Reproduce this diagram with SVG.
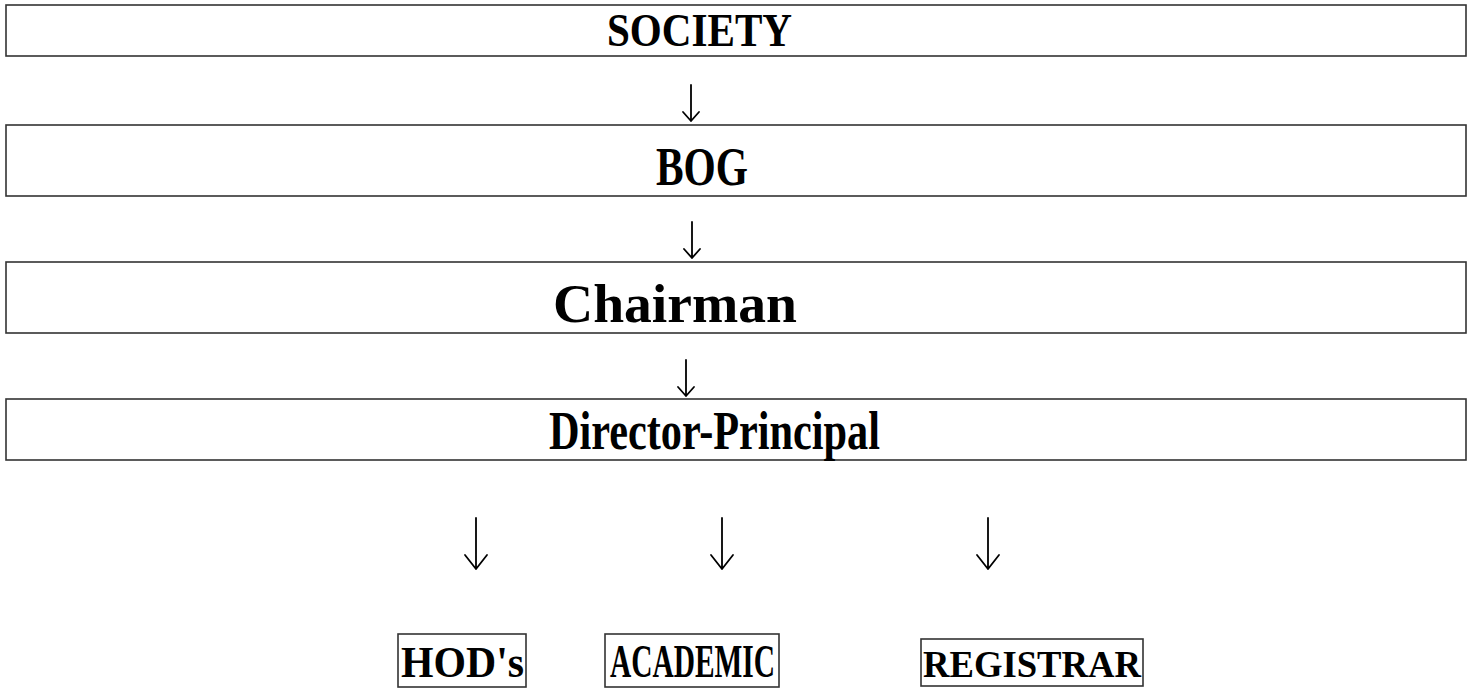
<svg xmlns="http://www.w3.org/2000/svg" width="1472" height="688" viewBox="0 0 1472 688">
<style>
.box{fill:#fff;stroke:#333;stroke-width:1.6}
.t{font-family:"Liberation Serif","Times New Roman",serif;font-weight:bold;fill:#000;text-anchor:start}
.c{fill:none;stroke:#000;stroke-width:1.8;stroke-linecap:round;stroke-linejoin:round}
</style>
<rect width="1472" height="688" fill="#fff"/>
<g id="society"><rect class="box" x="6" y="5" width="1460" height="51"/><text class="t" x="607" y="46" font-size="46" textLength="185" lengthAdjust="spacingAndGlyphs">SOCIETY</text></g>
<g id="bog"><rect class="box" x="6" y="125" width="1460" height="71"/><text class="t" x="656" y="185" font-size="55" textLength="92" lengthAdjust="spacingAndGlyphs">BOG</text></g>
<g id="chairman"><rect class="box" x="6" y="262" width="1460" height="71"/><text class="t" x="553" y="322" font-size="54" textLength="244" lengthAdjust="spacingAndGlyphs">Chairman</text></g>
<g id="director"><rect class="box" x="6" y="399" width="1460" height="61"/><text class="t" x="549" y="449" font-size="54" textLength="331" lengthAdjust="spacingAndGlyphs">Director-Principal</text></g>
<g id="hods"><rect class="box" x="398" y="634" width="128" height="53"/><text class="t" x="401" y="677" font-size="44" textLength="123" lengthAdjust="spacingAndGlyphs">HOD's</text></g>
<g id="academic"><rect class="box" x="605" y="634" width="174" height="53"/><text class="t" x="610" y="677" font-size="46" textLength="165" lengthAdjust="spacingAndGlyphs">ACADEMIC</text></g>
<g id="registrar"><rect class="box" x="921" y="639" width="222" height="47"/><text class="t" x="923" y="677" font-size="38" textLength="218" lengthAdjust="spacingAndGlyphs">REGISTRAR</text></g>
<g id="connectors">
<path class="c" d="M691 85V121M683 112L691 121L699 112"/>
<path class="c" d="M692 222V258M684 249L692 258L700 249"/>
<path class="c" d="M686 360V396M678 387L686 396L694 387"/>
<path class="c" d="M476 518V569M465 555L476 569L487 555"/>
<path class="c" d="M722 518V569M711 555L722 569L733 555"/>
<path class="c" d="M988 518V569M977 555L988 569L999 555"/>
</g>
</svg>
